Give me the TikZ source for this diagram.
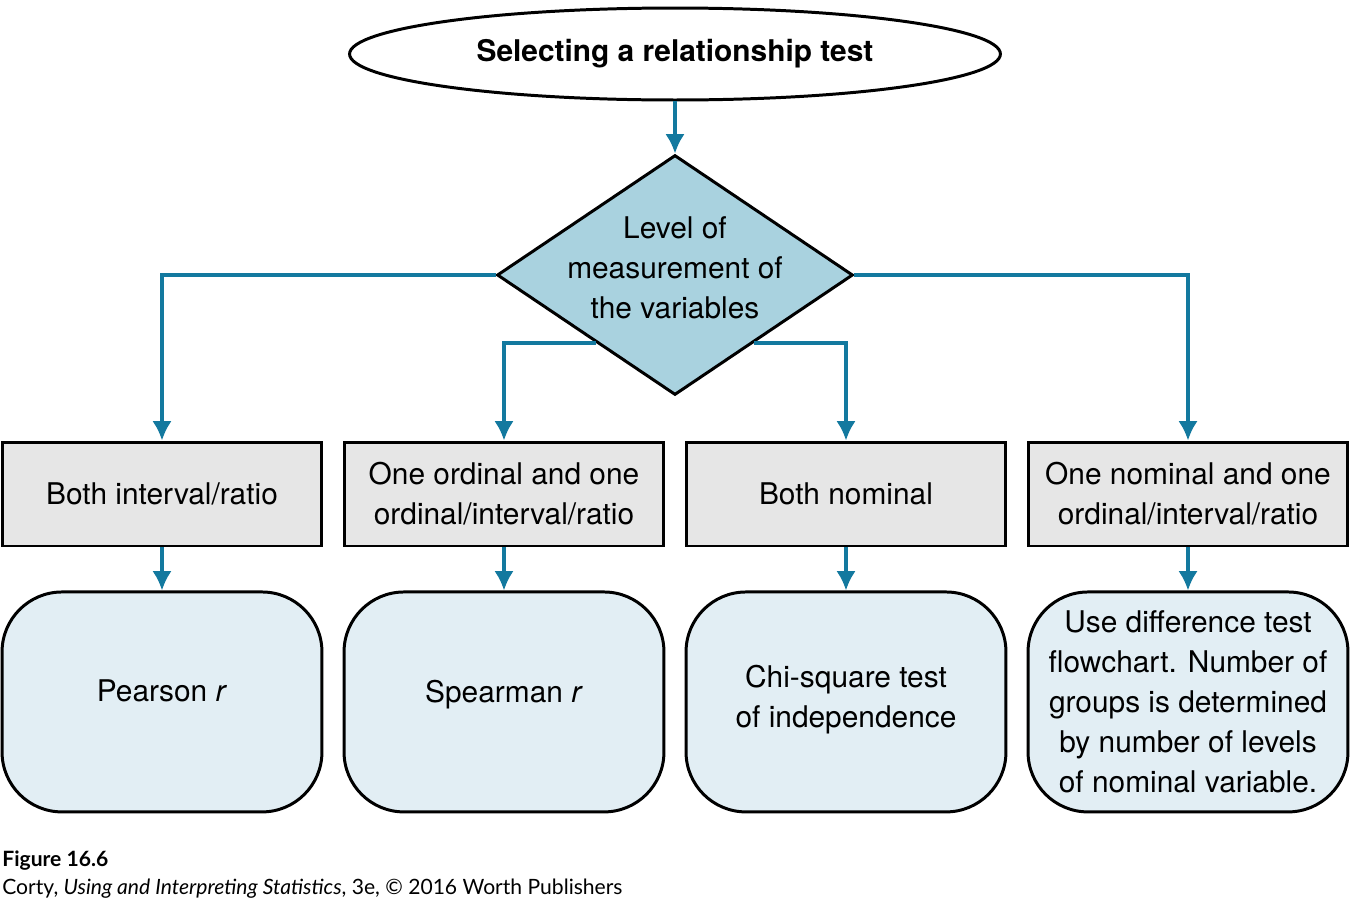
\documentclass[tikz,border=0pt]{standalone}
\usepackage{fontspec}
\setmainfont{TeX Gyre Heros}
\newfontfamily\capfont{Lato}
\usepackage{xcolor}
\usetikzlibrary{arrows.meta, calc, positioning, shapes.geometric}

\definecolor{flowblue}{HTML}{13799F}
\definecolor{diafill}{HTML}{A9D2DF}
\definecolor{boxgrey}{HTML}{E6E6E6}
\definecolor{endfill}{HTML}{E2EEF4}

\begin{document}
\begin{tikzpicture}[x=0.02cm,y=-0.02cm,node distance=0.86cm,>={Latex[length=11pt,width=11pt]},
	every node/.style={font=\fontsize{17}{22.8}\selectfont, align=center},
	start/.style={ellipse, draw, line width=1.7pt, minimum width=13.02cm, minimum height=1.84cm, inner sep=0pt},
	decision/.style={diamond, draw, line width=1.7pt, fill=diafill, minimum width=7.12cm, minimum height=4.8cm, inner sep=0pt},
	level/.style={rectangle, draw, line width=1.7pt, fill=boxgrey, minimum width=6.4cm, minimum height=2.08cm, inner sep=0pt},
	result/.style={rectangle, rounded corners=1.2cm, draw, line width=1.7pt, fill=endfill, minimum width=6.4cm, minimum height=4.4cm, inner sep=0pt},
	flow/.style={->, flowblue, line width=2pt},
	caption/.style={anchor=base west, inner sep=0pt, font=\capfont\fontsize{12}{14}\selectfont}]
	\useasboundingbox (0,0) rectangle (1350,900);
			\node[start] (start) at (675,54) {\bfseries Selecting a relationship test};
			\node[decision, label={[align=center, yshift=0.14cm]center:Level of\\measurement of\\the variables}] (dec) at (675,275) {};
			% level of the two variables
			\node[level] (both) at (162,494) {Both interval/ratio};
			\node[level] (ordinal) at (504,494) {One ordinal and one\\ordinal/interval/ratio};
			\node[level] (nominal) at (846,494) {Both nominal};
			\node[level] (mixed) at (1188,494) {One nominal and one\\ordinal/interval/ratio};
			% tests
			\node[result] (pearson) [below=of both] {Pearson \textit{r}\\[-0.36cm]};
			\node[result] (spearman) [below=of ordinal] {Spearman \textit{r}\\[-0.36cm]};
			\node[result] (chisq) [below=of nominal] {Chi-square test\\of independence\\[-0.56cm]};
			\node[result] (difftest) [below=of mixed] {Use difference test\\flowchart. Number of\\groups is determined\\by number of levels\\of nominal variable.};
			\draw[flow] (start) -- (dec);
			\draw[flow] (dec.west) -| (both);
			\draw[flow] (dec.east) -| (mixed);
			\draw[flow] ($(dec.south)!0.44!(dec.west)$) -| (ordinal);
			\draw[flow] ($(dec.south)!0.44!(dec.east)$) -| (nominal);
			\foreach \a/\b in {both/pearson, ordinal/spearman, nominal/chisq, mixed/difftest}
			\draw[flow] (\a) -- (\b);
			% figure credit
			\node[caption, font=\capfont\fontsize{12}{14}\selectfont\bfseries] (fig) at (2,866) {Figure 16.6};
			\node[caption] (credit) at (2,894) {Corty, \textit{Using and Interpreting Statistics}, 3e, © 2016 Worth Publishers};
		\end{tikzpicture}
\end{document}
